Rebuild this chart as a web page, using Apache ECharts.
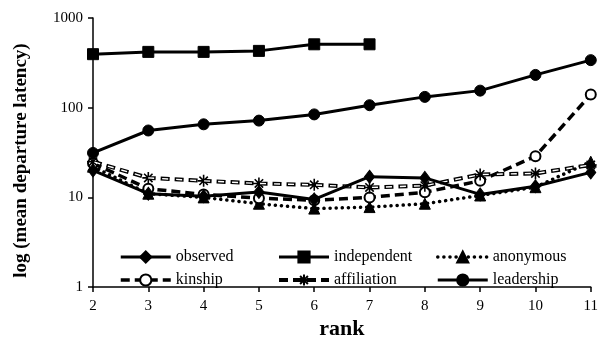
<!DOCTYPE html>
<html>
<head>
<meta charset="utf-8">
<script src="https://cdn.jsdelivr.net/npm/echarts@6/dist/echarts.min.js"></script>
<style>
  html, body { margin: 0; padding: 0; background: #fff; }
  #chart { width: 601px; height: 345px; }
</style>
</head>
<body>
<div id="chart"></div>
<script>
// Group size ranks on the x axis
const ranks = [2, 3, 4, 5, 6, 7, 8, 9, 10, 11];
const independentRanks = [2, 3, 4, 5, 6, 7];

// Mean departure latency per rank, one array per model
const observed    = [20, 11, 10.3, 11.5, 9.5, 17, 16.5, 10.8, 13.3, 19];
const independent = [395, 419, 419, 430, 509, 509];
const anonymous   = [22, 11, 10, 8.5, 7.5, 7.8, 8.5, 10.5, 13, 25];
const kinship     = [24, 12.5, 10.8, 9.8, 9.3, 10, 11.4, 15.3, 28.8, 140];
const affiliation = [25, 16.5, 15.3, 14.3, 13.8, 12.9, 13.5, 18, 18.5, 23];
const leadership  = [31.3, 55.7, 65.3, 71.8, 84.2, 106.6, 132, 155, 232, 339];

// y-axis tick values (log scale)
const yTicks = [1, 10, 100, 1000];

const pairs = (xs, ys) => ys.map((v, i) => [xs[i], v]);

const SERIF = '"Liberation Serif", "Times New Roman", serif';
const BLACK = '#000';

// asterisk glyph for the affiliation markers
const asterisk = 'path://M0,-10L0,10M-10,0L10,0M-7,-7L7,7M-7,7L7,-7';

// line styles shared by the series and their legend icons
const styles = {
  observed:    { color: BLACK, width: 3 },
  independent: { color: BLACK, width: 3 },
  leadership:  { color: BLACK, width: 3 },
  anonymous:   { color: BLACK, width: 3.5, type: [0.1, 6], cap: 'round' },
  kinship:     { color: BLACK, width: 3.5, type: [9, 5] },
  affiliation: { color: BLACK, width: 4, type: [9, 5] }
};

const base = (name, data, extra) => Object.assign({
  name: name,
  type: 'line',
  data: data,
  symbolSize: 11,
  showSymbol: true,
  animation: false,
  lineStyle: styles[name] || { color: BLACK, width: 3 },
  itemStyle: { color: BLACK, borderColor: BLACK, borderWidth: 1 }
}, extra);

const series = [
  base('anonymous', pairs(ranks, anonymous), { symbol: 'triangle', symbolSize: 11, z: 2 }),
  base('kinship', pairs(ranks, kinship), {
    symbol: 'emptyCircle', symbolSize: 10, z: 3,
    itemStyle: { color: BLACK, borderColor: BLACK, borderWidth: 2 }
  }),
  base('affiliation', pairs(ranks, affiliation), {
    symbol: asterisk, symbolSize: 12, z: 3,
    itemStyle: { color: BLACK, borderColor: BLACK, borderWidth: 1.6 }
  }),
  // white core inside the affiliation dashes
  base('affiliation-core', pairs(ranks, affiliation), {
    symbol: 'none', z: 4, silent: true,
    lineStyle: { color: '#fff', width: 1.4, type: [6, 8], dashOffset: -1.5 }
  }),
  base('observed', pairs(ranks, observed), { symbol: 'diamond', symbolSize: [10, 13], z: 5 }),
  base('independent', pairs(independentRanks, independent), { symbol: 'rect', symbolSize: 11, z: 5 }),
  base('leadership', pairs(ranks, leadership), { symbol: 'circle', symbolSize: 11, z: 5 })
];

const legendItem = (name) => ({ name: name, lineStyle: styles[name] });

const legendCommon = {
  orient: 'vertical',
  top: 244,
  itemWidth: 50,
  itemHeight: 14,
  itemGap: 7,
  selectedMode: false,
  textStyle: { fontFamily: SERIF, fontSize: 16, color: BLACK }
};

const option = {
  backgroundColor: '#fff',
  animation: false,
  grid: { left: 93, right: 5, top: 18, bottom: 54 },
  legend: [
    Object.assign({ left: 114, data: [legendItem('observed'), legendItem('kinship')] }, legendCommon),
    Object.assign({ left: 272, data: [legendItem('independent'), legendItem('affiliation')] }, legendCommon),
    Object.assign({ left: 431, data: [legendItem('anonymous'), legendItem('leadership')] }, legendCommon)
  ],
  xAxis: {
    type: 'value',
    min: ranks[0],
    max: ranks[ranks.length - 1],
    interval: 1,
    name: 'rank',
    nameLocation: 'middle',
    nameGap: 27,
    nameTextStyle: { fontFamily: SERIF, fontSize: 22, fontWeight: 'bold', color: BLACK },
    axisLine: { onZero: false, lineStyle: { color: BLACK, width: 1.5 } },
    axisTick: { show: true, length: 5, lineStyle: { color: BLACK, width: 1.5 } },
    axisLabel: { fontFamily: SERIF, fontSize: 15, color: BLACK, margin: 11 },
    splitLine: { show: false }
  },
  yAxis: {
    type: 'log',
    logBase: 10,
    min: yTicks[0],
    max: yTicks[yTicks.length - 1],
    name: 'log (mean departure latency)',
    nameLocation: 'middle',
    nameGap: 62,
    nameTextStyle: {
      fontFamily: SERIF, fontSize: 19, fontWeight: 'bold', color: BLACK,
      padding: [0, 16, 0, 0]
    },
    axisLine: { show: true, lineStyle: { color: BLACK, width: 1.5 } },
    axisTick: { show: true, length: 5, lineStyle: { color: BLACK, width: 1.5 } },
    minorTick: { show: false },
    axisLabel: {
      fontFamily: SERIF, fontSize: 15, color: BLACK, margin: 10,
      formatter: (v) => String(Math.round(v))
    },
    splitLine: { show: false }
  },
  series: series
};

const chart = echarts.init(document.getElementById('chart'), null, { renderer: 'canvas' });
chart.setOption(option);
</script>
</body>
</html>
